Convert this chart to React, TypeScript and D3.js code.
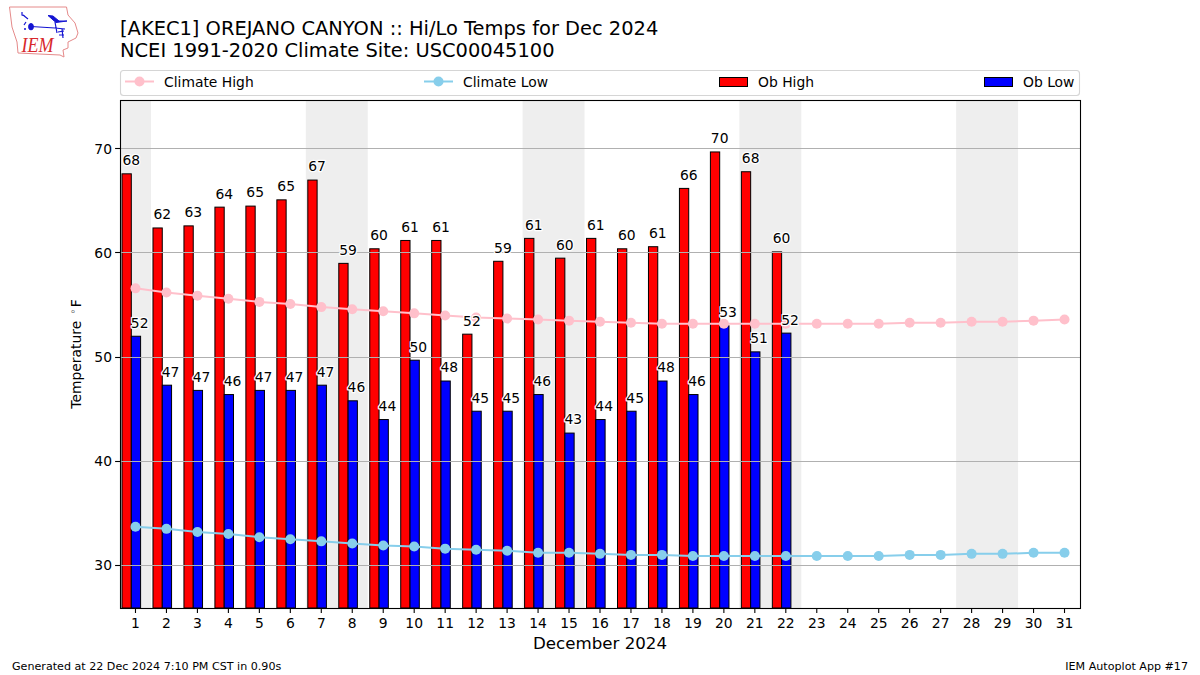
import React from "react";
import * as d3 from "d3";

const FONT = "'DejaVu Sans', sans-serif";
const titleLines = ["[AKEC1] OREJANO CANYON :: Hi/Lo Temps for Dec 2024", "NCEI 1991-2020 Climate Site: USC00045100"];
const days = d3.range(1, 32);
const obHigh = [67.6, 62.4, 62.6, 64.4, 64.5, 65.1, 67.0, 59.0, 60.4, 61.2, 61.2, 52.2, 59.2, 61.4, 59.5, 61.4, 60.4, 60.6, 66.2, 69.7, 67.8, 60.1];
const obLow = [52.0, 47.3, 46.8, 46.4, 46.8, 46.8, 47.3, 45.8, 44.0, 49.7, 47.7, 44.8, 44.8, 46.4, 42.7, 44.0, 44.8, 47.7, 46.4, 53.0, 50.5, 52.3];
const highLabels = [68, 62, 63, 64, 65, 65, 67, 59, 60, 61, 61, 52, 59, 61, 60, 61, 60, 61, 66, 70, 68, 60];
const lowLabels = [52, 47, 47, 46, 47, 47, 47, 46, 44, 50, 48, 45, 45, 46, 43, 44, 45, 48, 46, 53, 51, 52];
const climateHigh = [56.6, 56.2, 55.9, 55.6, 55.3, 55.1, 54.8, 54.6, 54.4, 54.2, 54.0, 53.8, 53.7, 53.6, 53.5, 53.4, 53.3, 53.2, 53.2, 53.2, 53.2, 53.2, 53.2, 53.2, 53.2, 53.3, 53.3, 53.4, 53.4, 53.5, 53.6];
const climateLow = [33.7, 33.5, 33.2, 33.0, 32.7, 32.5, 32.3, 32.1, 31.9, 31.8, 31.6, 31.5, 31.4, 31.2, 31.2, 31.1, 31.0, 31.0, 30.9, 30.9, 30.9, 30.9, 30.9, 30.9, 30.9, 31.0, 31.0, 31.1, 31.1, 31.2, 31.2];
const weekends = [[0.5, 1.5], [6.5, 8.5], [13.5, 15.5], [20.5, 22.5], [27.5, 29.5]];
const yTicks = [30, 40, 50, 60, 70];

const L = 120, R = 1080, T = 100, B = 608;
const x = d3.scaleLinear().domain([0.5, 31.5]).range([L, R]);
const y = d3.scaleLinear().domain([25.9, 74.69]).range([B, T]);
const BAR = 0.3;
const OFFSET = 0.135;
const TICK_PX = 13.89;

const lineGen = d3.line<number>().x((_, i) => x(days[i])).y((v) => y(v));
const snap = (v: number) => Math.floor(v) + 0.5;

function Logo() {
  return (
    <g>
      <path d="M9.5 7 L66.5 7 L68 15 L75 23 L78 33 L76 38 L68 42 L68 48 L63 50 L64 57 L60 55 L18 53 L17 42 L12 27 Z" fill="none" stroke="#e58a8a" strokeWidth={1} />
      <g stroke="#1414d2" fill="#1414d2">
        <path d="M31 26.5 L55 28 L65 29 M55 22 L57 33 M62 29 L63 38 M28 19 L23 15 M22 12 L22 15 L25 16 M24 25 L26 22" strokeWidth={1.2} fill="none" />
        <ellipse cx={31} cy={26.7} rx={2.4} ry={3.2} />
        <path d="M48 15.5 L53 16 L59 21 L67 21 L56 22.5 Z" />
        <path d="M58 32 L64 31 M59 35 L64 35" strokeWidth={1.2} fill="none" />
        <circle cx={25} cy={29} r={1} stroke="none" />
      </g>
      <text x={21.5} y={52} fontFamily="'Liberation Serif', serif" fontStyle="italic" fontSize={22} textLength={32} lengthAdjust="spacingAndGlyphs" fill="#d8282c">IEM</text>
    </g>
  );
}

function Legend() {
  return (
    <g fontFamily={FONT} fontSize={TICK_PX} fill="#000">
      <rect x={120.5} y={70.5} width={959} height={25} rx={3} fill="#fff" stroke="#d5d5d5" strokeWidth={1.1} />
      <line x1={125} x2={154} y1={81.5} y2={81.5} stroke="pink" strokeWidth={2} />
      <circle cx={139.5} cy={81.5} r={5} fill="pink" />
      <text x={164} y={86.5}>Climate High</text>
      <line x1={424} x2={453} y1={81.5} y2={81.5} stroke="skyblue" strokeWidth={2} />
      <circle cx={438.5} cy={81.5} r={5} fill="skyblue" />
      <text x={463} y={86.5}>Climate Low</text>
      <rect x={719.5} y={77.5} width={28} height={9} fill="red" stroke="#000" strokeWidth={1} />
      <text x={758} y={86.5}>Ob High</text>
      <rect x={984.5} y={77.5} width={28} height={9} fill="blue" stroke="#000" strokeWidth={1} />
      <text x={1023} y={86.5}>Ob Low</text>
    </g>
  );
}

const halo = { stroke: "#fff", strokeWidth: 2.5, paintOrder: "stroke" as const, strokeLinejoin: "round" as const };

export default function App() {
  return (
    <svg width={1200} height={675} style={{ position: "absolute", left: 0, top: 0, background: "#fff" }}>
      <Logo />
      <g fontFamily={FONT} fontSize={19.44} fill="#000">
        {titleLines.map((t, i) => <text key={i} x={120} y={35 + i * 22}>{t}</text>)}
      </g>
      <Legend />
      {weekends.map(([a, b]) => (
        <rect key={a} x={x(a)} y={T} width={x(b) - x(a)} height={B - T} fill="#eeeeee" />
      ))}
      {obHigh.map((v, i) => (
        <rect key={i} x={x(days[i] - OFFSET - BAR)} y={y(v)} width={x(BAR) - x(0)} height={B - y(v)} fill="red" stroke="#000" strokeWidth={1} />
      ))}
      {obLow.map((v, i) => (
        <rect key={i} x={x(days[i] - OFFSET)} y={y(v)} width={x(BAR) - x(0)} height={B - y(v)} fill="blue" stroke="#000" strokeWidth={1} />
      ))}
      {yTicks.map((t) => (
        <line key={t} x1={L} x2={R} y1={snap(y(t))} y2={snap(y(t))} stroke="#b0b0b0" strokeWidth={1} />
      ))}
      <path d={lineGen(climateHigh) ?? ""} fill="none" stroke="pink" strokeWidth={2} />
      {climateHigh.map((v, i) => <circle key={i} cx={x(days[i])} cy={y(v)} r={5} fill="pink" />)}
      <path d={lineGen(climateLow) ?? ""} fill="none" stroke="skyblue" strokeWidth={2} />
      {climateLow.map((v, i) => <circle key={i} cx={x(days[i])} cy={y(v)} r={5} fill="skyblue" />)}
      <g fontFamily={FONT} fontSize={TICK_PX} fill="#000" textAnchor="middle" {...halo}>
        {obHigh.map((v, i) => <text key={i} x={x(days[i] - OFFSET)} y={y(v) - 8.6}>{highLabels[i]}</text>)}
        {obLow.map((v, i) => <text key={i} x={x(days[i] + OFFSET)} y={y(v) - 8.6}>{lowLabels[i]}</text>)}
      </g>
      <rect x={L + 0.5} y={T + 0.5} width={R - L} height={B - T} fill="none" stroke="#000" strokeWidth={1.1} />
      <g fontFamily={FONT} fontSize={TICK_PX} fill="#000">
        {days.map((d) => (
          <g key={d}>
            <line x1={x(d)} x2={x(d)} y1={B} y2={B + 5} stroke="#000" strokeWidth={1.1} />
            <text x={x(d)} y={B + 19.5} textAnchor="middle">{d}</text>
          </g>
        ))}
        {yTicks.map((t) => (
          <g key={t}>
            <line x1={L - 4.9} x2={L} y1={snap(y(t))} y2={snap(y(t))} stroke="#000" strokeWidth={1.1} />
            <text x={L - 8} y={y(t) + 5} textAnchor="end">{t}</text>
          </g>
        ))}
        <text transform="translate(81,354) rotate(-90)" textAnchor="middle">
          Temperature <tspan dx={2} fontSize={9.7} dy={-5} fill="#666">∘</tspan><tspan dx={1} dy={5}>F</tspan>
        </text>
      </g>
      <text x={600} y={649} fontFamily={FONT} fontSize={16.67} textAnchor="middle">December 2024</text>
      <text x={12} y={670} fontFamily={FONT} fontSize={11.11}>Generated at 22 Dec 2024 7:10 PM CST in 0.90s</text>
      <text x={1188} y={670} fontFamily={FONT} fontSize={11.11} textAnchor="end">IEM Autoplot App #17</text>
    </svg>
  );
}
